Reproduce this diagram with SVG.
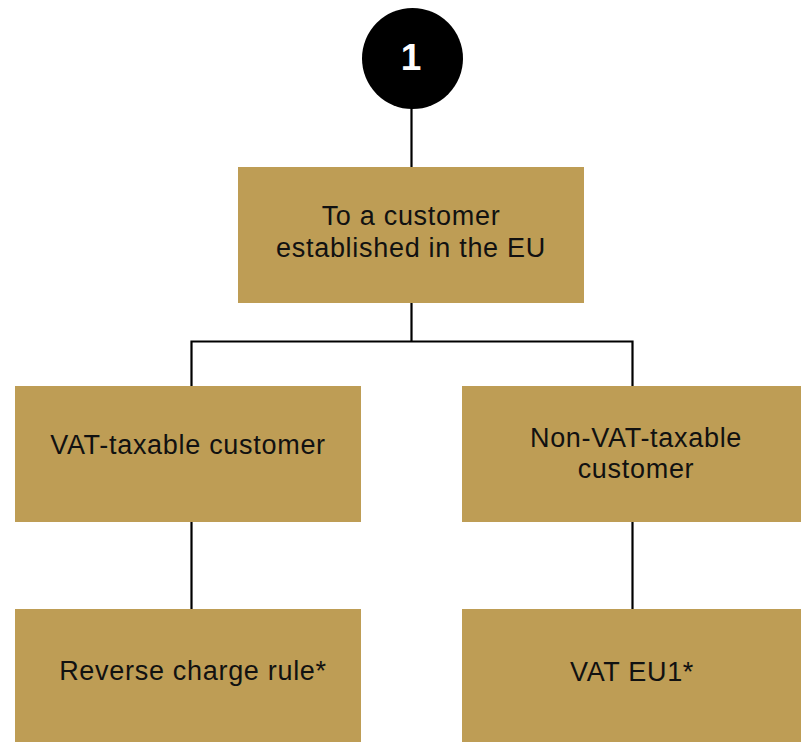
<svg xmlns="http://www.w3.org/2000/svg" width="801" height="742" viewBox="0 0 801 742">
  <style>
    .box { fill: #BE9D55; }
    .lbl { font-family: "Liberation Sans", Arial, sans-serif; font-size: 27px; letter-spacing: 0.7px; fill: #111111; text-anchor: middle; }
    .wire { fill: none; stroke: #000000; stroke-width: 2.2; }
  </style>
  <rect width="801" height="742" fill="#ffffff"/>

  <!-- connectors -->
  <g id="connectors">
    <path class="wire" d="M411.5 108 V168"/>
    <path class="wire" d="M411.5 302 V341.5 M191.5 386 V341.5 H632.5 V386"/>
    <path class="wire" d="M191.5 521 V610"/>
    <path class="wire" d="M632.5 521 V610"/>
  </g>

  <!-- step marker -->
  <g id="step1">
    <circle cx="412.5" cy="58.5" r="50.5" fill="#000000"/>
    <text x="411" y="70" font-family="Liberation Sans, Arial, sans-serif" font-size="37" font-weight="bold" fill="#ffffff" text-anchor="middle">1</text>
  </g>

  <g id="customer-eu">
    <rect class="box" x="238" y="167" width="346" height="136"/>
    <text class="lbl" x="411" y="225">To a customer</text>
    <text class="lbl" x="411" y="257">established in the EU</text>
  </g>

  <g id="vat-taxable">
    <rect class="box" x="15" y="386" width="346" height="136"/>
    <text class="lbl" x="188" y="454">VAT-taxable customer</text>
  </g>

  <g id="non-vat-taxable">
    <rect class="box" x="462" y="386" width="346" height="136"/>
    <text class="lbl" x="636" y="447">Non-VAT-taxable</text>
    <text class="lbl" x="636" y="478">customer</text>
  </g>

  <g id="reverse-charge">
    <rect class="box" x="15" y="609" width="346" height="136"/>
    <text class="lbl" x="193" y="680">Reverse charge rule*</text>
  </g>

  <g id="vat-eu1">
    <rect class="box" x="462" y="609" width="346" height="136"/>
    <text class="lbl" x="632" y="681">VAT EU1*</text>
  </g>
</svg>
